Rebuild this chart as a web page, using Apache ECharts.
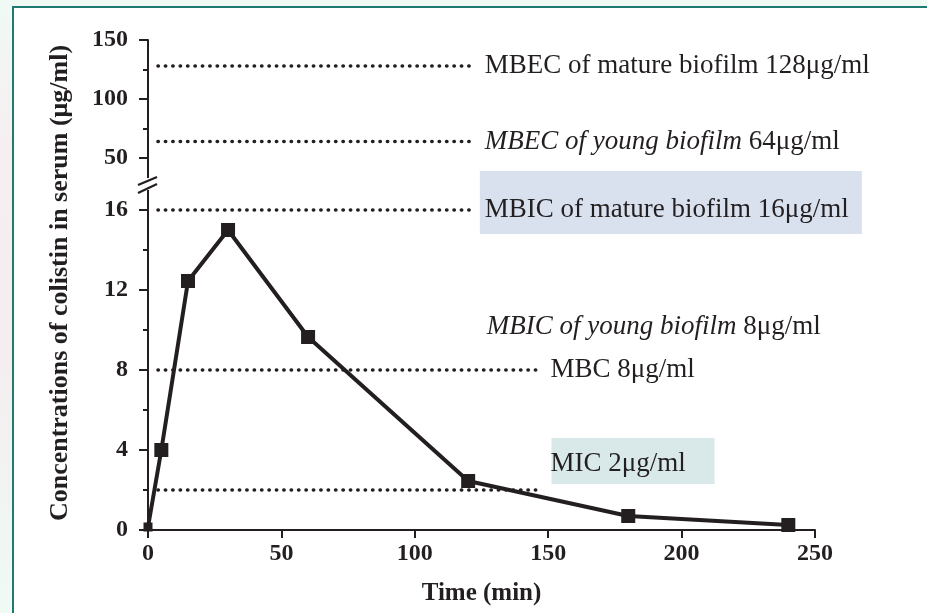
<!DOCTYPE html>
<html>
<head>
<meta charset="utf-8">
<script src="https://cdn.jsdelivr.net/npm/echarts@6/dist/echarts.min.js"></script>
<style>
  html, body { margin: 0; padding: 0; width: 927px; height: 613px; overflow: hidden; background: #f0faf4; }
  #strip { position: absolute; left: 0; top: 0; width: 12px; height: 613px;
           background: linear-gradient(to bottom, #f0faf4 0%, #f6eef1 25%, #f4eef0 60%, #f0f6f2 85%, #f0faf4 100%); }
  #frame { position: absolute; left: 12px; top: 6px; width: 960px; height: 660px; background: #ffffff;
           border-left: 2px solid #1f7a70; border-top: 2px solid #1f7a70; }
  #chart { position: absolute; left: 0; top: 0; width: 927px; height: 613px; }
</style>
</head>
<body>
<div id="strip"></div>
<div id="frame"></div>
<div id="chart"></div>
<script>
// Colistin serum concentration over time
const timeMin    = [0, 5, 15, 30, 60, 120, 180, 240];
const serumConc  = [0.15, 4.0, 12.45, 15.0, 9.65, 2.45, 0.7, 0.25];

// Axis ticks
const xTicks      = [0, 50, 100, 150, 200, 250];
const lowerTicks  = [0, 4, 8, 12, 16];
const lowerMinor  = [2, 6, 10, 14];
const upperTicks  = [50, 100, 150];
const upperMinor  = [75, 125];

// Reference thresholds (µg/ml)
const upperThresholdValues = [128, 64];
const upperThresholdLabels = ['MBEC of mature biofilm 128μg/ml', '{it|MBEC of young biofilm} 64μg/ml'];
const lowerThresholdValues = [16, 8, 2];
const lowerThresholdLabels = ['MBIC of mature biofilm 16μg/ml', 'MBC 8μg/ml', 'MIC 2μg/ml'];
const extraLabel = '{it|MBIC of young biofilm} 8μg/ml';

// ---- layout / style ----
const INK = '#231f20';
const SERIF = '"Liberation Serif", "Times New Roman", serif';
const NOTE_SIZE = 27;
const X_MAX = 250;
const UPPER_MIN = 33, UPPER_MAX = 150, LOWER_MAX = 17;
const GRID_LEFT = 148, GRID_W = 667;
const UPPER_TOP = 40, UPPER_H = (UPPER_MAX - UPPER_MIN) * 1.18;
const LOWER_TOP = 190, LOWER_H = 340;
const LINE_X0 = 3.75;              // dotted lines start just right of the axis
const SHORT_END = 121, LONG_END = 146;

const chart = echarts.init(document.getElementById('chart'), null, { renderer: 'canvas' });

const tickLabel = { fontFamily: SERIF, fontWeight: 'bold', fontSize: 24, color: INK };

function yAxisMajor(grid, min, max, ticks) {
  return {
    type: 'value', gridIndex: grid, min: min, max: max, position: 'left',
    axisLine: { show: true, lineStyle: { color: INK, width: 2 } },
    axisTick: { show: true, inside: false, length: 9, lineStyle: { color: INK, width: 2 }, customValues: ticks },
    axisLabel: Object.assign({ margin: 20, customValues: ticks }, tickLabel),
    splitLine: { show: false }
  };
}
function yAxisMinor(grid, min, max, ticks) {
  return {
    type: 'value', gridIndex: grid, min: min, max: max, position: 'left', offset: 0,
    axisLine: { show: false },
    axisTick: { show: true, inside: false, length: 5, lineStyle: { color: INK, width: 2 }, customValues: ticks },
    axisLabel: { show: false },
    splitLine: { show: false }
  };
}

function dotted(name, xAxisIndex, yAxisIndex, value, xEnd) {
  return {
    name: name, type: 'line', xAxisIndex: xAxisIndex, yAxisIndex: yAxisIndex,
    data: [[LINE_X0, value], [xEnd, value]],
    symbol: 'none', silent: true, z: 1,
    lineStyle: { color: INK, width: 3.6, type: [0.3, 7.1], cap: 'round' }
  };
}

const series = [];
upperThresholdValues.forEach((v, i) => series.push(dotted('u' + i, 0, 0, v, SHORT_END)));
lowerThresholdValues.forEach((v, i) => series.push(dotted('l' + i, 1, 2, v, i === 0 ? SHORT_END : LONG_END)));
series.push({
  name: 'Colistin', type: 'line', xAxisIndex: 1, yAxisIndex: 2,
  data: timeMin.map((t, i) => [t, serumConc[i]]),
  symbol: 'rect', symbolSize: (v, p) => (p.dataIndex === 0 ? 9 : 14),
  itemStyle: { color: INK },
  lineStyle: { color: INK, width: 4 },
  z: 5, clip: false
});

chart.setOption({
  animation: false,
  grid: [
    { left: GRID_LEFT, top: UPPER_TOP, width: GRID_W, height: UPPER_H, outerBoundsMode: 'none', containLabel: false },
    { left: GRID_LEFT, top: LOWER_TOP, width: GRID_W, height: LOWER_H, outerBoundsMode: 'none', containLabel: false }
  ],
  xAxis: [
    { type: 'value', gridIndex: 0, min: 0, max: X_MAX, show: false },
    {
      type: 'value', gridIndex: 1, min: 0, max: X_MAX, interval: 50,
      axisLine: { show: true, lineStyle: { color: INK, width: 2 } },
      axisTick: { show: true, inside: false, length: 8, lineStyle: { color: INK, width: 2 }, customValues: xTicks },
      axisLabel: Object.assign({ margin: 12, customValues: xTicks }, tickLabel),
      splitLine: { show: false },
      name: 'Time (min)', nameLocation: 'middle', nameGap: 51,
      nameTextStyle: { fontFamily: SERIF, fontWeight: 'bold', fontSize: 25, color: INK }
    }
  ],
  yAxis: [
    yAxisMajor(0, UPPER_MIN, UPPER_MAX, upperTicks),
    yAxisMinor(0, UPPER_MIN, UPPER_MAX, upperMinor),
    yAxisMajor(1, 0, LOWER_MAX, lowerTicks),
    yAxisMinor(1, 0, LOWER_MAX, lowerMinor)
  ],
  series: series
});

// ---- annotations anchored to the threshold lines ----
const px = (xi, yi, pt) => chart.convertToPixel({ xAxisIndex: xi, yAxisIndex: yi }, pt);
const rich = { it: { fontFamily: SERIF, fontStyle: 'italic', fontSize: NOTE_SIZE, fill: INK } };
function label(text, x, y) {
  return {
    type: 'text', x: x, y: y, z: 10,
    style: { text: text, rich: rich, fontFamily: SERIF, fontSize: NOTE_SIZE, fill: INK, align: 'left', verticalAlign: 'middle' }
  };
}

const graphics = [];
const u0 = px(0, 0, [SHORT_END, upperThresholdValues[0]]);
const u1 = px(0, 0, [SHORT_END, upperThresholdValues[1]]);
const l0 = px(1, 2, [SHORT_END, lowerThresholdValues[0]]);
const l1 = px(1, 2, [LONG_END, lowerThresholdValues[1]]);
const l2 = px(1, 2, [LONG_END, lowerThresholdValues[2]]);
const labelX1 = u0[0] + 14, labelX2 = l1[0] + 13;

// shaded boxes behind two of the notes
graphics.push({ type: 'rect', z: 0, shape: { x: labelX1 - 5, y: l0[1] - 39, width: 382, height: 63 }, style: { fill: '#d9e1ef' } });
graphics.push({ type: 'rect', z: 0, shape: { x: labelX2 + 1, y: l2[1] - 26 - 26, width: 163, height: 46 }, style: { fill: '#d9e8e8' } });

graphics.push(label(upperThresholdLabels[0], labelX1, u0[1]));
graphics.push(label(upperThresholdLabels[1], labelX1, u1[1]));
graphics.push(label(lowerThresholdLabels[0], labelX1, l0[1]));
graphics.push(label(extraLabel, labelX1 + 2, l1[1] - 43));
graphics.push(label(lowerThresholdLabels[1], labelX2, l1[1]));
graphics.push(label(lowerThresholdLabels[2], labelX2, l2[1] - 26));

// axis break marks
const axisX = GRID_LEFT;
const breakTop = UPPER_TOP + UPPER_H, breakBottom = LOWER_TOP;
graphics.push({ type: 'rect', z: 8, shape: { x: axisX - 3, y: breakTop, width: 6, height: breakBottom - breakTop }, style: { fill: '#ffffff' } });
graphics.push({ type: 'line', z: 9, shape: { x1: axisX - 10, y1: breakTop + 7, x2: axisX + 9, y2: breakTop - 1 }, style: { stroke: INK, lineWidth: 2.2 } });
graphics.push({ type: 'line', z: 9, shape: { x1: axisX - 10, y1: breakTop + 15, x2: axisX + 9, y2: breakTop + 6 }, style: { stroke: INK, lineWidth: 2.2 } });

// vertical axis title spanning both panels
graphics.push({
  type: 'text', x: 60, y: 283, rotation: Math.PI / 2, z: 10,
  style: { text: 'Concentrations of colistin in serum (μg/ml)', fontFamily: SERIF, fontWeight: 'bold', fontSize: 26,
           fill: INK, align: 'center', verticalAlign: 'middle' }
});

chart.setOption({ graphic: graphics });
</script>
</body>
</html>
